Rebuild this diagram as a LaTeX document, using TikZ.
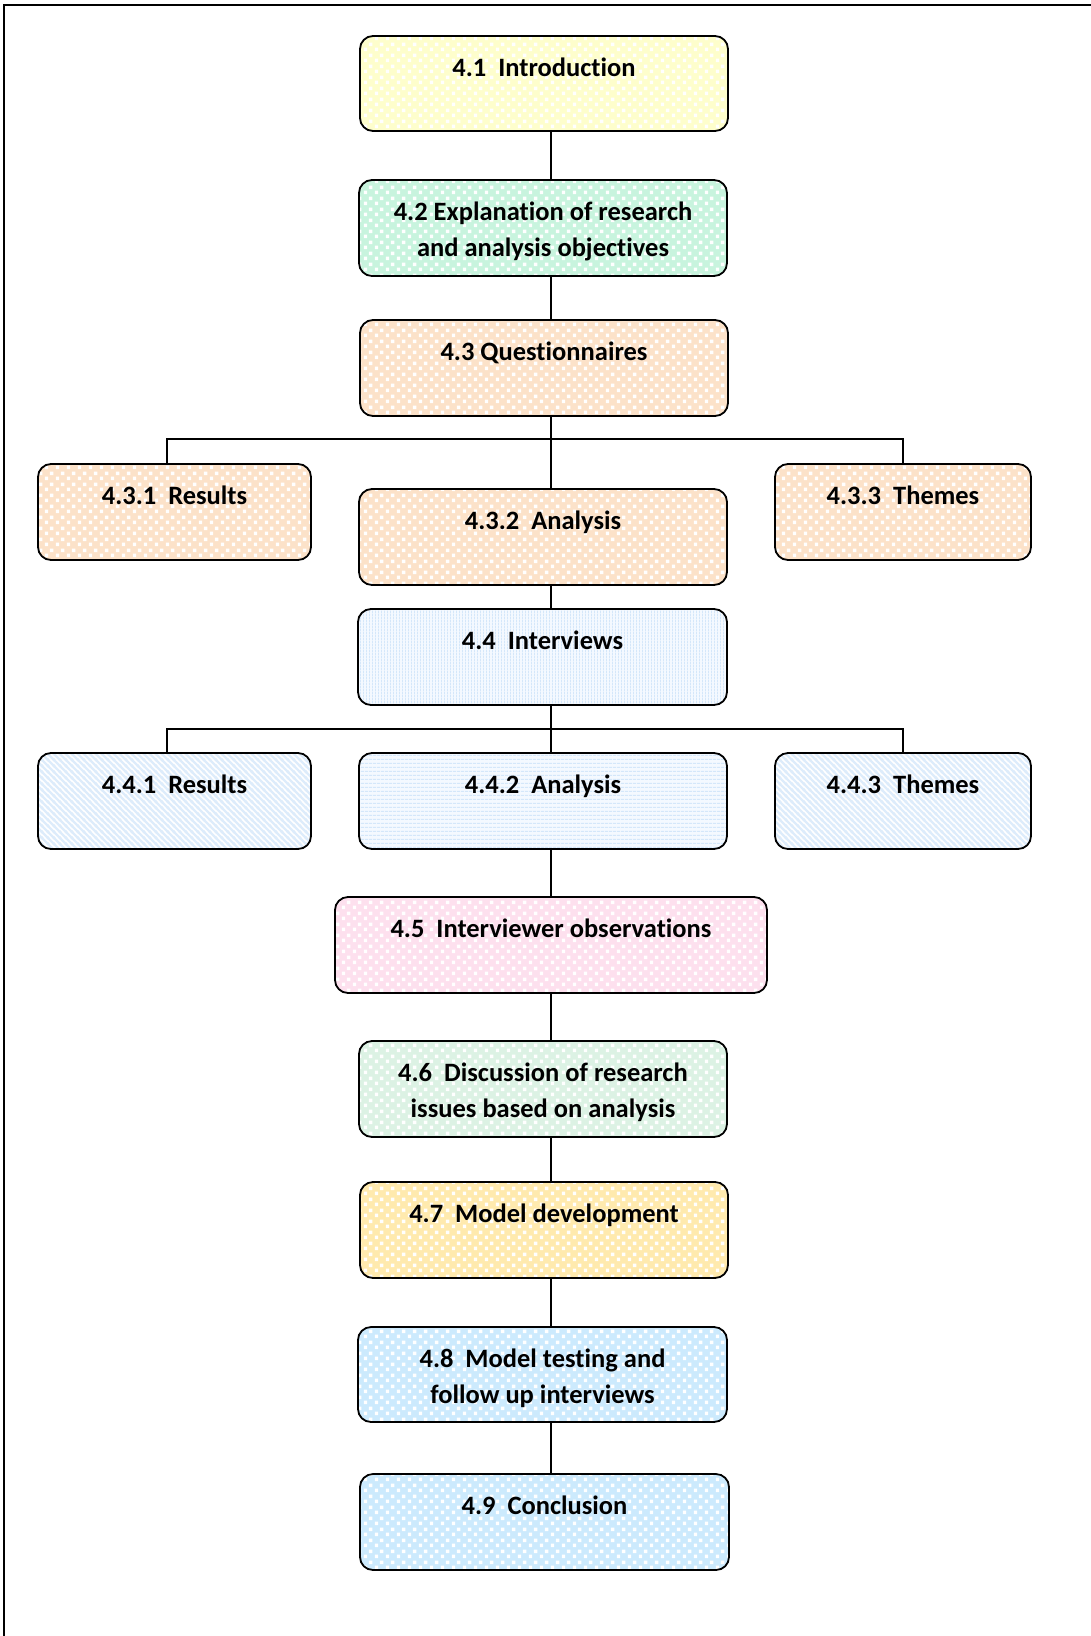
\documentclass[tikz,border=0pt]{standalone}
\usepackage{fontspec}
\setmainfont{Carlito}[Ligatures=NoCommon]
\usetikzlibrary{patterns}

% checkerboard of white squares laid over a tinted fill
\pgfdeclarepatternformonly{checks}{\pgfqpoint{0pt}{0pt}}{\pgfqpoint{11pt}{11pt}}{\pgfqpoint{11pt}{11pt}}{%
  \pgfpathrectangle{\pgfqpoint{0.9pt}{0.9pt}}{\pgfqpoint{3.7pt}{3.7pt}}%
  \pgfpathrectangle{\pgfqpoint{6.4pt}{6.4pt}}{\pgfqpoint{3.7pt}{3.7pt}}%
  \pgfusepath{fill}}
% fine vertical hatching
\pgfdeclarepatternformonly{vfine}{\pgfqpoint{0pt}{0pt}}{\pgfqpoint{3pt}{3pt}}{\pgfqpoint{3pt}{3pt}}{%
  \pgfpathrectangle{\pgfqpoint{0pt}{0pt}}{\pgfqpoint{1.2pt}{3pt}}%
  \pgfusepath{fill}}
% fine horizontal hatching
\pgfdeclarepatternformonly{hfine}{\pgfqpoint{0pt}{0pt}}{\pgfqpoint{3.5pt}{3.5pt}}{\pgfqpoint{3.5pt}{3.5pt}}{%
  \pgfpathrectangle{\pgfqpoint{0pt}{0pt}}{\pgfqpoint{3.5pt}{1.3pt}}%
  \pgfusepath{fill}}
% wide diagonal stripes
\pgfdeclarepatternformonly{wdiag}{\pgfqpoint{-1pt}{-1pt}}{\pgfqpoint{7pt}{7pt}}{\pgfqpoint{6pt}{6pt}}{%
  \pgfsetlinewidth{2.2pt}%
  \pgfpathmoveto{\pgfqpoint{-1pt}{7pt}}\pgfpathlineto{\pgfqpoint{7pt}{-1pt}}%
  \pgfpathmoveto{\pgfqpoint{-1pt}{1pt}}\pgfpathlineto{\pgfqpoint{1pt}{-1pt}}%
  \pgfpathmoveto{\pgfqpoint{5pt}{7pt}}\pgfpathlineto{\pgfqpoint{7pt}{5pt}}%
  \pgfusepath{stroke}}

\definecolor{cyellow}{HTML}{FEFECC}
\definecolor{cmint}{HTML}{C8F4DE}
\definecolor{cpeach}{HTML}{FCE2C9}
\definecolor{cpink}{HTML}{FDE0EE}
\definecolor{cpale}{HTML}{DCF2E4}
\definecolor{cgold}{HTML}{FFEAAE}
\definecolor{csky}{HTML}{CCEAFD}
\definecolor{chatch}{HTML}{D4E7FA}
\definecolor{cbase}{HTML}{F4F9FF}

\tikzset{
  box/.style={draw=black, line width=1.8pt, rounded corners=13pt, inner sep=0pt},
  dotted fill/.style={preaction={fill=#1}, pattern=checks, pattern color=white},
  vlines/.style={preaction={fill=cbase}, pattern=vfine, pattern color=chatch},
  hlines/.style={preaction={fill=cbase}, pattern=hfine, pattern color=chatch},
  dlines/.style={preaction={fill=white}, pattern=wdiag, pattern color=chatch!80},
  lbl/.style={font=\fontsize{26.5}{36.5}\selectfont\bfseries, inner sep=0pt, align=center, anchor=base},
  link/.style={line width=1.6pt}
}

% #1 name, #2 left, #3 top, #4 right, #5 bottom, #6 fill style, #7 text
% the label's last baseline sits #8 below the top edge
\newcommand\chapboxgen[8]{%
  \node[box,#6,minimum width={#4-#2},minimum height={#5-#3}] (#1) at ({(#2+#4)/2},{(#3+#5)/2}) {};
  \node[lbl] (#1t) at ([yshift=-#8pt]#1.north) {#7};
}
\newcommand\chapbox[7]{\chapboxgen{#1}{#2}{#3}{#4}{#5}{#6}{#7}{41}}
\newcommand\chapboxtwo[7]{\chapboxgen{#1}{#2}{#3}{#4}{#5}{#6}{#7}{77.5}}

\begin{document}
\begin{tikzpicture}[x=1pt,y=-1pt]
\useasboundingbox (0,0) rectangle (1091,1636);
% page frame
\draw[line width=2.2pt] (4,1645) -- (4,5) -- (1100,5);

\coordinate (spine) at (551,0);
\coordinate (lft) at (167,0);
\coordinate (rgt) at (903,0);

\chapbox{b41}{360}{36}{728}{131}{dotted fill=cyellow}{4.1~ Introduction}
\chapboxtwo{b42}{359}{180}{727}{276}{dotted fill=cmint}{4.2 Explanation of research\\and analysis objectives}
\chapbox{b43}{360}{320}{728}{416}{dotted fill=cpeach}{4.3 Questionnaires}
\chapbox{b431}{38}{464}{311}{560}{dotted fill=cpeach}{4.3.1~ Results}
\chapbox{b432}{359}{489}{727}{585}{dotted fill=cpeach}{4.3.2~ Analysis}
\chapbox{b433}{775}{464}{1031}{560}{dotted fill=cpeach}{4.3.3~ Themes}
\chapbox{b44}{358}{609}{727}{705}{vlines}{4.4~ Interviews}
\chapbox{b441}{38}{753}{311}{849}{dlines}{4.4.1~ Results}
\chapbox{b442}{359}{753}{727}{849}{hlines}{4.4.2~ Analysis}
\chapbox{b443}{775}{753}{1031}{849}{dlines}{4.4.3~ Themes}
\chapbox{b45}{335}{897}{767}{993}{dotted fill=cpink}{4.5~ Interviewer observations}
\chapboxtwo{b46}{359}{1041}{727}{1137}{dotted fill=cpale}{4.6~ Discussion of research\\issues based on analysis}
\chapbox{b47}{360}{1182}{728}{1278}{dotted fill=cgold}{4.7~ Model development}
\chapboxtwo{b48}{358}{1327}{727}{1422}{dotted fill=csky}{4.8~ Model testing and\\follow up interviews}
\chapbox{b49}{360}{1474}{729}{1570}{dotted fill=csky}{4.9~ Conclusion}

% straight links down the spine
\draw[link] (b41.south -| spine) -- (b42.north -| spine);
\draw[link] (b42.south -| spine) -- (b43.north -| spine);
\draw[link] (b43.south -| spine) -- (b432.north -| spine);
\draw[link] (b432.south -| spine) -- (b44.north -| spine);
\draw[link] (b44.south -| spine) -- (b442.north -| spine);
\draw[link] (b442.south -| spine) -- (b45.north -| spine);
\draw[link] (b45.south -| spine) -- (b46.north -| spine);
\draw[link] (b46.south -| spine) -- (b47.north -| spine);
\draw[link] (b47.south -| spine) -- (b48.north -| spine);
\draw[link] (b48.south -| spine) -- (b49.north -| spine);

% branch buses
\coordinate (busA) at (0,439);
\coordinate (busB) at (0,729);
\draw[link] (b431.north -| lft) -- (busA -| lft) -- (busA -| rgt) -- (b433.north -| rgt);
\draw[link] (b441.north -| lft) -- (busB -| lft) -- (busB -| rgt) -- (b443.north -| rgt);
\end{tikzpicture}
\end{document}
